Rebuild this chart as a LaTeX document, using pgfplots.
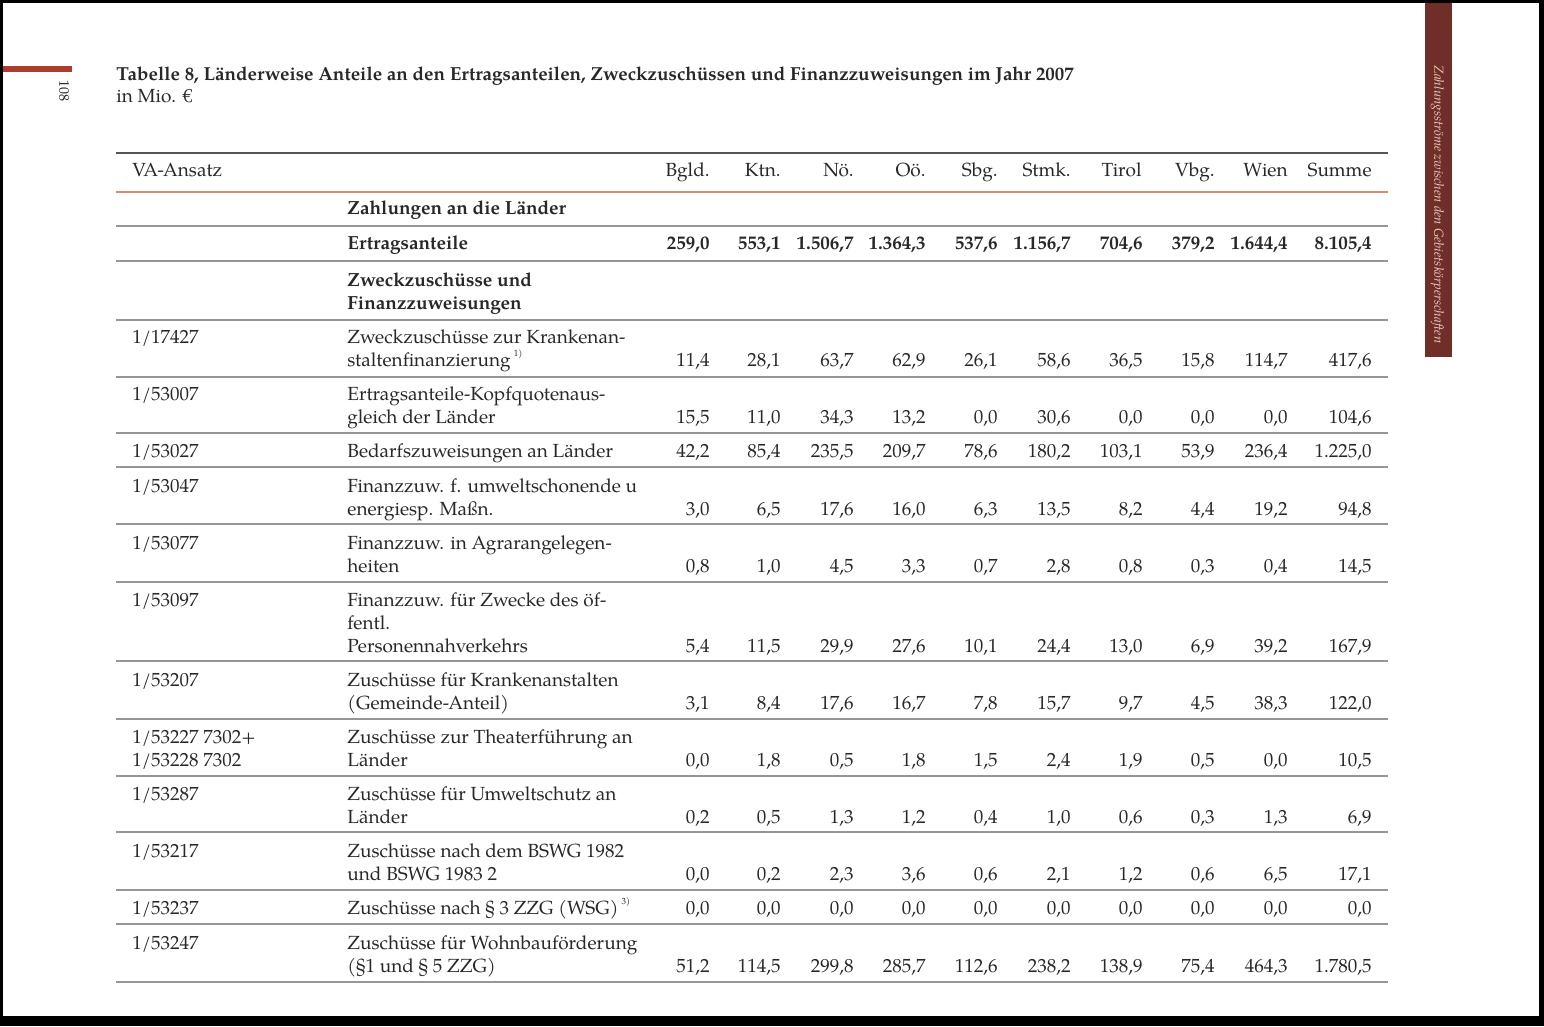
\documentclass[border=0pt]{standalone}
\usepackage{fontspec}
\setmainfont{texgyrepagella}[Extension=.otf, UprightFont=*-regular, BoldFont=*-bold, ItalicFont=*-italic, BoldItalicFont=*-bolditalic]
\usepackage{pgfplots}
\pgfplotsset{compat=1.18}
\usepackage{pgfplotstable}
\definecolor{txt}{RGB}{40,40,40}
\definecolor{rulegray}{RGB}{150,150,150}
\definecolor{ruledark}{RGB}{85,85,85}
\definecolor{ruleorange}{RGB}{214,140,112}
\definecolor{redbar}{RGB}{170,62,45}
\definecolor{sidebar}{RGB}{112,46,40}
\definecolor{sidetext}{RGB}{232,205,198}
\newcommand\bodyfont{\fontsize{9.5}{11.5}\selectfont}
% one text line, left aligned on its baseline (x, y in pixels of the page)
\newcommand\tl[3]{\node[anchor=base west,inner sep=0pt,font=\bodyfont,text=txt] at (axis cs:#1,#2) {#3};}
\newcommand\tlb[3]{\node[anchor=base west,inner sep=0pt,font=\bodyfont\bfseries,text=txt] at (axis cs:#1,#2) {#3};}
\newcommand\hd[2]{\node[anchor=base east,inner sep=0pt,font=\bodyfont,text=txt] at (axis cs:#1,177) {#2};}

% Ertragsanteile (bold row)
\pgfplotstableread{
yb bgld ktn noe ooe sbg stmk tirol vbg wien summe
250 259.0 553.1 1506.7 1364.3 537.6 1156.7 704.6 379.2 1644.4 8105.4
}\ertrag
% Zweckzuschuesse und Finanzzuweisungen, yb = baseline of the last text line
\pgfplotstableread{
yb bgld ktn noe ooe sbg stmk tirol vbg wien summe
366 11.4 28.1 63.7 62.9 26.1 58.6 36.5 15.8 114.7 417.6
423 15.5 11.0 34.3 13.2 0.0 30.6 0.0 0.0 0.0 104.6
457 42.2 85.4 235.5 209.7 78.6 180.2 103.1 53.9 236.4 1225.0
515 3.0 6.5 17.6 16.0 6.3 13.5 8.2 4.4 19.2 94.8
572 0.8 1.0 4.5 3.3 0.7 2.8 0.8 0.3 0.4 14.5
652 5.4 11.5 29.9 27.6 10.1 24.4 13.0 6.9 39.2 167.9
709 3.1 8.4 17.6 16.7 7.8 15.7 9.7 4.5 38.3 122.0
766 0.0 1.8 0.5 1.8 1.5 2.4 1.9 0.5 0.0 10.5
823 0.2 0.5 1.3 1.2 0.4 1.0 0.6 0.3 1.3 6.9
880 0.0 0.2 2.3 3.6 0.6 2.1 1.2 0.6 6.5 17.1
914 0.0 0.0 0.0 0.0 0.0 0.0 0.0 0.0 0.0 0.0
972 51.2 114.5 299.8 285.7 112.6 238.2 138.9 75.4 464.3 1780.5
}\zweck

\pgfplotsset{
  numcol/.style={draw=none, mark=none, point meta=explicit symbolic,
    nodes near coords={\pgfmathprintnumber[fixed,fixed zerofill,precision=1,use comma,1000 sep={.},assume math mode=true]{\pgfplotspointmeta}},
    nodes near coords align={anchor=base east},
    every node near coord/.append style={inner sep=0pt, font=\bodyfont, text=txt}},
  boldcol/.style={numcol, every node near coord/.append style={font=\bodyfont\bfseries}}
}

\begin{document}
\begin{tikzpicture}
\begin{axis}[scale only axis, width=772pt, height=513pt,
  xmin=0, xmax=1544, ymin=0, ymax=1026, y dir=reverse,
  hide axis, clip=false]
% scanned page with its dark frame
\fill[black] (axis cs:0,0) rectangle (axis cs:1544,1026);
\fill[white] (axis cs:3,3) rectangle (axis cs:1539,1016);
\fill[redbar] (axis cs:3,66) rectangle (axis cs:72,72);
\node[rotate=-90,anchor=mid west,inner sep=0pt,font=\fontsize{7}{8}\selectfont,text=txt] at (axis cs:64,80) {108};
\fill[sidebar] (axis cs:1425,3) rectangle (axis cs:1452,357);
\node[rotate=-90,anchor=mid west,inner sep=0pt,font=\fontsize{6.55}{8}\itshape,text=sidetext] at (axis cs:1439,65) {Zahlungsströme zwischen den Gebietskörperschaften};

% title
\node[anchor=base west,inner sep=0pt,font=\fontsize{9.43}{12}\selectfont\bfseries,text=txt] at (axis cs:116,81)
  {Tabelle 8, Länderweise Anteile an den Ertragsanteilen, Zweckzuschüssen und Finanzzuweisungen im Jahr 2007};
\node[anchor=base west,inner sep=0pt,font=\fontsize{9.5}{12}\selectfont,text=txt] at (axis cs:116,103) {in Mio. €};

% rules
\draw[ruledark, line width=0.8pt] (axis cs:116,153) -- (axis cs:1388,153);
\draw[ruleorange, line width=0.8pt] (axis cs:116,192) -- (axis cs:1388,192);
\pgfplotsinvokeforeach{226,261,320,377,433,467,524,582,661,719,776,832,890,924,982}{
  \draw[rulegray, line width=0.7pt] (axis cs:116,#1) -- (axis cs:1388,#1);
}

% header
\tl{132}{177}{VA-Ansatz}
\hd{710}{Bgld.}\hd{781}{Ktn.}\hd{854}{Nö.}\hd{926}{Oö.}\hd{998}{Sbg.}
\hd{1071}{Stmk.}\hd{1142}{Tirol}\hd{1215}{Vbg.}\hd{1288}{Wien}\hd{1372}{Summe}

% row labels
\tlb{347}{215}{Zahlungen an die Länder}
\tlb{347}{250}{Ertragsanteile}
\tlb{347}{286}{Zweckzuschüsse und}
\tlb{347}{309}{Finanzzuweisungen}
\tl{132}{343}{1/17427}
\tl{347}{343}{Zweckzuschüsse zur Krankenan-}
\tl{347}{366}{staltenfinanzierung\,\raisebox{1.1ex}{\fontsize{4.5}{5}\selectfont 1)}}
\tl{132}{400}{1/53007}
\tl{347}{400}{Ertragsanteile-Kopfquotenaus-}
\tl{347}{423}{gleich der Länder}
\tl{132}{457}{1/53027}
\tl{347}{457}{Bedarfszuweisungen an Länder}
\tl{132}{492}{1/53047}
\tl{347}{492}{Finanzzuw. f. umweltschonende u}
\tl{347}{515}{energiesp. Maßn.}
\tl{132}{549}{1/53077}
\tl{347}{549}{Finanzzuw. in Agrarangelegen-}
\tl{347}{572}{heiten}
\tl{132}{606}{1/53097}
\tl{347}{606}{Finanzzuw. für Zwecke des öf-}
\tl{347}{629}{fentl.}
\tl{347}{652}{Personennahverkehrs}
\tl{132}{686}{1/53207}
\tl{347}{686}{Zuschüsse für Krankenanstalten}
\tl{347}{709}{(Gemeinde-Anteil)}
\tl{132}{743}{1/53227 7302+}
\tl{132}{766}{1/53228 7302}
\tl{347}{743}{Zuschüsse zur Theaterführung an}
\tl{347}{766}{Länder}
\tl{132}{800}{1/53287}
\tl{347}{800}{Zuschüsse für Umweltschutz an}
\tl{347}{823}{Länder}
\tl{132}{857}{1/53217}
\tl{347}{857}{Zuschüsse nach dem BSWG 1982}
\tl{347}{880}{und BSWG 1983 2}
\tl{132}{914}{1/53237}
\tl{347}{914}{Zuschüsse nach § 3 ZZG (WSG)\,\raisebox{1.1ex}{\fontsize{4.5}{5}\selectfont 3)}}
\tl{132}{949}{1/53247}
\tl{347}{949}{Zuschüsse für Wohnbauförderung}
\tl{347}{972}{(§1 und § 5 ZZG)}

% values
\addplot[boldcol] table[x expr=710, y=yb, meta=bgld] {\ertrag};
\addplot[boldcol] table[x expr=781, y=yb, meta=ktn] {\ertrag};
\addplot[boldcol] table[x expr=854, y=yb, meta=noe] {\ertrag};
\addplot[boldcol] table[x expr=926, y=yb, meta=ooe] {\ertrag};
\addplot[boldcol] table[x expr=998, y=yb, meta=sbg] {\ertrag};
\addplot[boldcol] table[x expr=1071, y=yb, meta=stmk] {\ertrag};
\addplot[boldcol] table[x expr=1143, y=yb, meta=tirol] {\ertrag};
\addplot[boldcol] table[x expr=1215, y=yb, meta=vbg] {\ertrag};
\addplot[boldcol] table[x expr=1288, y=yb, meta=wien] {\ertrag};
\addplot[boldcol] table[x expr=1372, y=yb, meta=summe] {\ertrag};

\addplot[numcol] table[x expr=710, y=yb, meta=bgld] {\zweck};
\addplot[numcol] table[x expr=781, y=yb, meta=ktn] {\zweck};
\addplot[numcol] table[x expr=854, y=yb, meta=noe] {\zweck};
\addplot[numcol] table[x expr=926, y=yb, meta=ooe] {\zweck};
\addplot[numcol] table[x expr=998, y=yb, meta=sbg] {\zweck};
\addplot[numcol] table[x expr=1071, y=yb, meta=stmk] {\zweck};
\addplot[numcol] table[x expr=1143, y=yb, meta=tirol] {\zweck};
\addplot[numcol] table[x expr=1215, y=yb, meta=vbg] {\zweck};
\addplot[numcol] table[x expr=1288, y=yb, meta=wien] {\zweck};
\addplot[numcol] table[x expr=1372, y=yb, meta=summe] {\zweck};
\end{axis}
\end{tikzpicture}
\end{document}
